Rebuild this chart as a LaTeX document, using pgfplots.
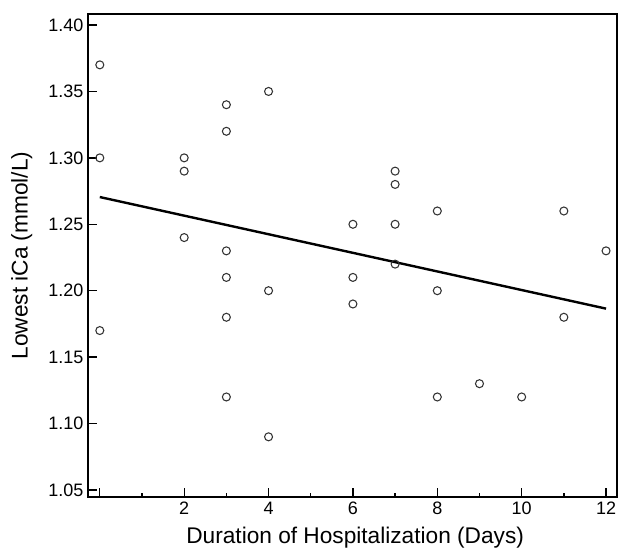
\documentclass[border=0pt]{standalone}
\usepackage{fontspec}
\setmainfont{Liberation Sans}
\usepackage{pgfplots}
\pgfplotsset{compat=1.18}

\begin{document}
\begin{tikzpicture}[x=1pt,y=1pt]
\begin{axis}[
    scale only axis,
    width=396.75pt,
    height=362.25pt,
    xmin=-0.28, xmax=12.26,
    ymin=1.0447, ymax=1.4083,
    axis line style={line width=1.6pt},
    xtick={0,2,...,12},
    xticklabels={,2,4,6,8,10,12},
    minor xtick={1,3,...,11},
    ytick={1.05,1.10,...,1.40},
    yticklabel style={/pgf/number format/.cd,fixed,fixed zerofill,precision=2},
    /pgf/number format/assume math mode=true,
    tick align=inside,
    xtick pos=bottom, ytick pos=left,
    major tick length=6.5pt,
    minor tick length=3pt,
    tick style={line width=1pt, black},
    ticklabel style={font=\fontsize{13.5}{15}\selectfont},
    xlabel={Duration of Hospitalization (Days)},
    ylabel={Lowest iCa (mmol/L)},
    label style={font=\fontsize{17}{20}\selectfont},
    xlabel style={at={(axis description cs:0.505,-0.085)}, anchor=center},
    ylabel style={at={(axis description cs:-0.125,0.5)}, anchor=center},
    clip=false,
]
\addplot[only marks, mark=o, mark size=3pt, mark options={line width=0.8pt, draw=black!80}] coordinates {
(0,1.37) (0,1.30) (0,1.17)
(2,1.30) (2,1.29) (2,1.24)
(3,1.34) (3,1.32) (3,1.23) (3,1.21) (3,1.18) (3,1.12)
(4,1.35) (4,1.20) (4,1.09)
(6,1.25) (6,1.21) (6,1.19)
(7,1.29) (7,1.28) (7,1.25) (7,1.22)
(8,1.26) (8,1.20) (8,1.12)
(9,1.13) (10,1.12)
(11,1.26) (11,1.18)
(12,1.23)
};
\addplot[black, line width=1.8pt] coordinates {(0,1.2705) (12,1.1865)};
\end{axis}
\pgfresetboundingbox
\path (current axis.south west) ++(-66pt,-39pt) coordinate (bl);
\path (current axis.north east) ++(1.5pt,10.5pt) coordinate (tr);
\path (bl) rectangle (tr);
\end{tikzpicture}
\end{document}
